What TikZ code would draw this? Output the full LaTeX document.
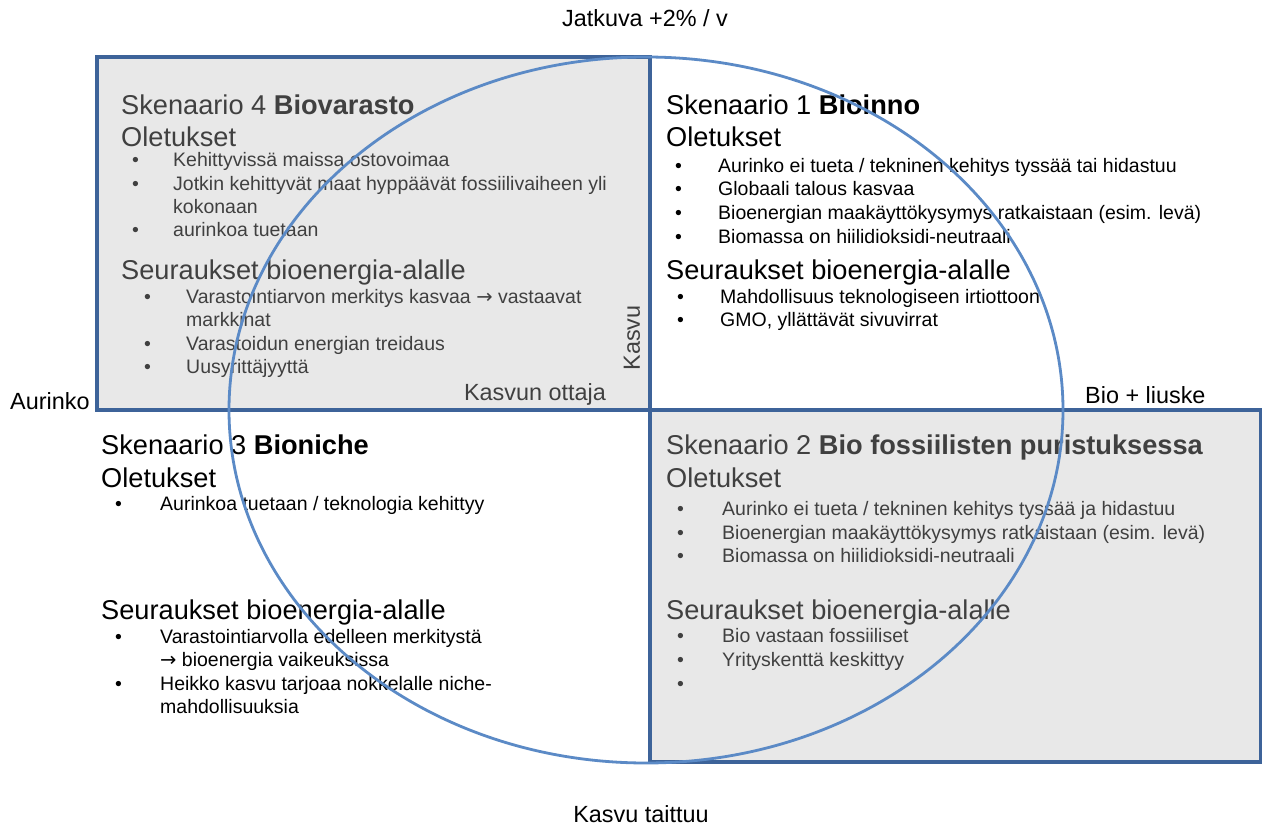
\documentclass[tikz,border=0pt]{standalone}
\usepackage{fontspec}
\setmainfont{Liberation Sans}
\newfontfamily\arrowfont{DejaVu Sans}
\newcommand{\rarr}{{\arrowfont →}}
\definecolor{framecol}{HTML}{3D6399}
\definecolor{ringcol}{HTML}{5B8AC6}
\definecolor{panelcol}{HTML}{E8E8E8}
\definecolor{dimtext}{HTML}{404040}
\begin{document}
\begin{tikzpicture}[x=1pt,y=-1pt,
  head/.style={anchor=base west, inner sep=0pt, font=\fontsize{27.2}{32}\selectfont},
  txt/.style={anchor=base west, inner sep=0pt, font=\fontsize{19.5}{23}\selectfont},
  axislbl/.style={inner sep=0pt, font=\fontsize{23.4}{28}\selectfont},
  panel/.style={draw=framecol, line width=3.2pt, fill=panelcol},
  ring/.style={draw=ringcol, line width=2.8pt}]
\useasboundingbox (0,0) rectangle (1262,827);
\fill[white] (0,0) rectangle (1262,827);

% shaded quadrants with their frames
\path[panel] (97,57) rectangle (650,410);
\path[panel] (650,410) rectangle (1261,762);

% axis labels
\node[axislbl] (top) at (645,18) {Jatkuva +2\% / v};
\node[axislbl] (bottom) at (641,814) {Kasvu taittuu};
\node[axislbl, anchor=west] (left) at (10,401) {Aurinko};
\node[axislbl, anchor=west] (right) at (1085,395) {Bio + liuske};
\node[axislbl, anchor=base east, dimtext] (taker) at (606,400) {Kasvun ottaja};
\node[axislbl, rotate=90, dimtext] (growth) at (632,338) {Kasvu};

% Scenario 4 (top left)
\begin{scope}[dimtext]
\node[head] (s4) at (121,114) {Skenaario 4 \textbf{Biovarasto}};
\node[head] (s4o) at (121,146) {Oletukset};
\node[txt] (s4b1) at (132,166) {•};
\node[txt] (s4a1) at (173,166) {Kehittyvissä maissa ostovoimaa};
\node[txt] (s4b2) at (132,190) {•};
\node[txt] (s4a2) at (173,190) {Jotkin kehittyvät maat hyppäävät fossiilivaiheen yli};
\node[txt] (s4a2b) at (173,213) {kokonaan};
\node[txt] (s4b3) at (132,236) {•};
\node[txt] (s4a3) at (173,236) {aurinkoa tuetaan};
\node[head] (s4s) at (121,279) {Seuraukset bioenergia-alalle};
\node[txt] (s4c1) at (144,303) {•};
\node[txt] (s4e1) at (186,303) {Varastointiarvon merkitys kasvaa \rarr{} vastaavat};
\node[txt] (s4e1b) at (186,326) {markkinat};
\node[txt] (s4c2) at (144,350) {•};
\node[txt] (s4e2) at (186,350) {Varastoidun energian treidaus};
\node[txt] (s4c3) at (144,373) {•};
\node[txt] (s4e3) at (186,373) {Uusyrittäjyyttä};
\end{scope}

% Scenario 1 (top right)
\node[head] (s1) at (666,114) {Skenaario 1 \textbf{Bioinno}};
\node[head] (s1o) at (666,146) {Oletukset};
\node[txt] (s1b1) at (675,172) {•};
\node[txt] (s1a1) at (718,172) {Aurinko ei tueta / tekninen kehitys tyssää tai hidastuu};
\node[txt] (s1b2) at (675,195) {•};
\node[txt] (s1a2) at (718,195) {Globaali talous kasvaa};
\node[txt] (s1b3) at (675,219) {•};
\node[txt] (s1a3) at (718,219) {Bioenergian maakäyttökysymys ratkaistaan (esim. levä)};
\node[txt] (s1b4) at (675,243) {•};
\node[txt] (s1a4) at (718,243) {Biomassa on hiilidioksidi-neutraali};
\node[head] (s1s) at (666,279) {Seuraukset bioenergia-alalle};
\node[txt] (s1c1) at (677,303) {•};
\node[txt] (s1e1) at (720,303) {Mahdollisuus teknologiseen irtiottoon};
\node[txt] (s1c2) at (677,326) {•};
\node[txt] (s1e2) at (720,326) {GMO, yllättävät sivuvirrat};

% Scenario 3 (bottom left)
\node[head] (s3) at (101,454) {Skenaario 3 \textbf{Bioniche}};
\node[head] (s3o) at (101,487) {Oletukset};
\node[txt] (s3b1) at (115,510) {•};
\node[txt] (s3a1) at (160,510) {Aurinkoa tuetaan / teknologia kehittyy};
\node[head] (s3s) at (101,619) {Seuraukset bioenergia-alalle};
\node[txt] (s3c1) at (115,643) {•};
\node[txt] (s3e1) at (160,643) {Varastointiarvolla edelleen merkitystä};
\node[txt] (s3e1b) at (160,666) {\rarr{} bioenergia vaikeuksissa};
\node[txt] (s3c2) at (115,690) {•};
\node[txt] (s3e2) at (160,690) {Heikko kasvu tarjoaa nokkelalle niche-};
\node[txt] (s3e2b) at (160,713) {mahdollisuuksia};

% Scenario 2 (bottom right)
\begin{scope}[dimtext]
\node[head] (s2) at (666,454) {Skenaario 2 \textbf{Bio fossiilisten puristuksessa}};
\node[head] (s2o) at (666,487) {Oletukset};
\node[txt] (s2b1) at (677,515) {•};
\node[txt] (s2a1) at (722,515) {Aurinko ei tueta / tekninen kehitys tyssää ja hidastuu};
\node[txt] (s2b2) at (677,539) {•};
\node[txt] (s2a2) at (722,539) {Bioenergian maakäyttökysymys ratkaistaan (esim. levä)};
\node[txt] (s2b3) at (677,562) {•};
\node[txt] (s2a3) at (722,562) {Biomassa on hiilidioksidi-neutraali};
\node[head] (s2s) at (666,619) {Seuraukset bioenergia-alalle};
\node[txt] (s2c1) at (677,642) {•};
\node[txt] (s2e1) at (722,642) {Bio vastaan fossiiliset};
\node[txt] (s2c2) at (677,666) {•};
\node[txt] (s2e2) at (722,666) {Yrityskenttä keskittyy};
\node[txt] (s2c3) at (677,690) {•};
\end{scope}

% growth ellipse over the quadrants
\path[ring] (646,410) ellipse [x radius=417pt, y radius=353pt];
\end{tikzpicture}
\end{document}
